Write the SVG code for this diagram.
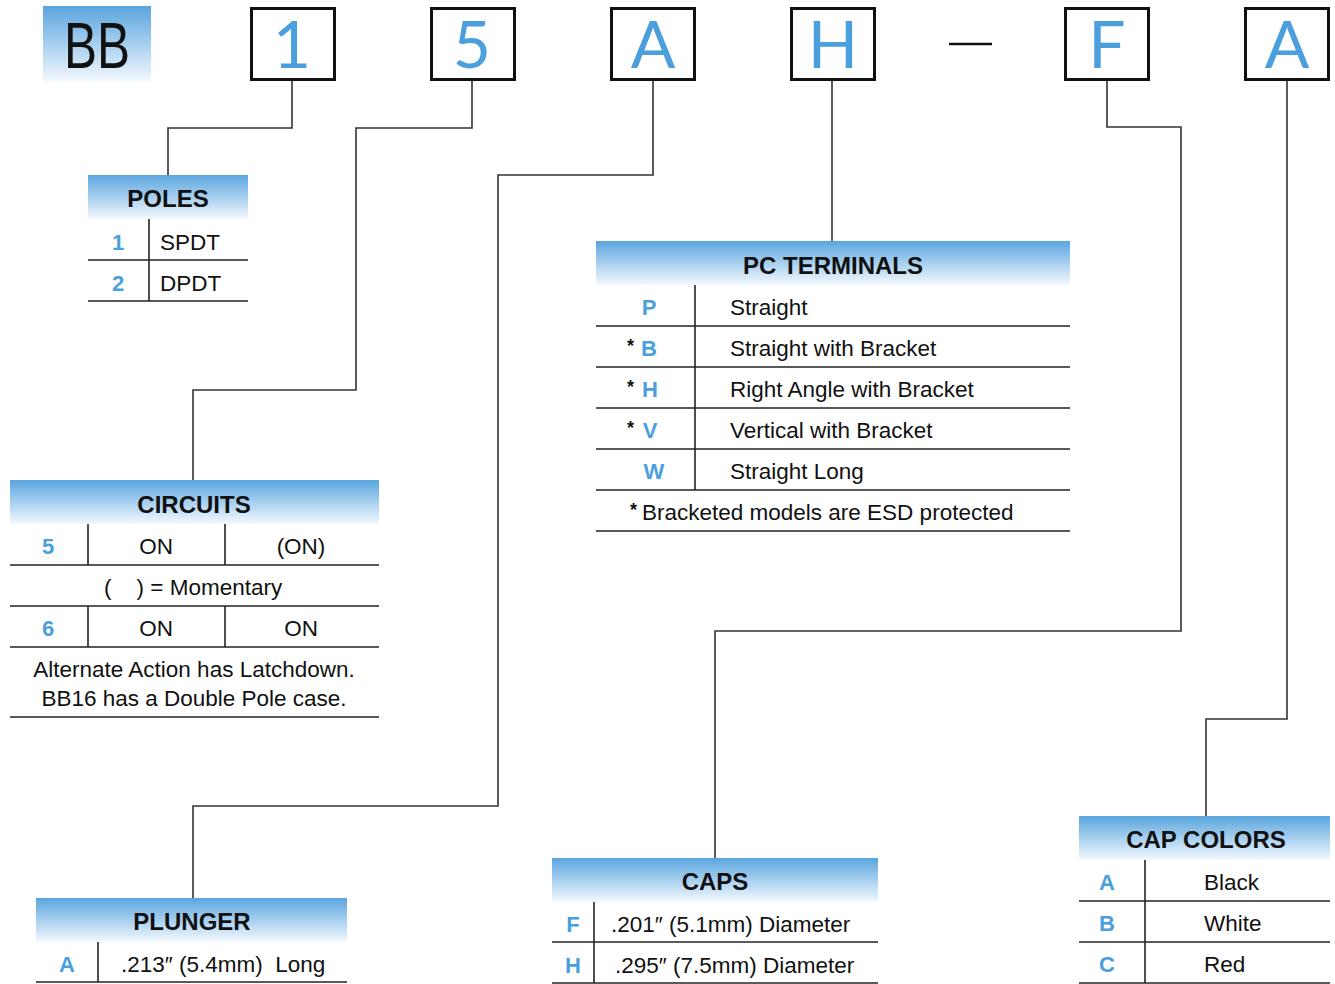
<svg xmlns="http://www.w3.org/2000/svg" width="1335" height="984" viewBox="0 0 1335 984">
<defs>
<linearGradient id="hdr" x1="0" y1="0" x2="0" y2="1">
<stop offset="0" stop-color="#5AA5DF"/>
<stop offset="1" stop-color="#F4F9FE"/>
</linearGradient>
</defs>
<style>
text{font-family:"Liberation Sans",Arial,sans-serif;fill:#111}
.t{font-size:22.5px}
.c{text-anchor:middle}
.h{font-size:24px;font-weight:bold;text-anchor:middle}
.k{font-size:22px;font-weight:bold;fill:#4B9FDD;text-anchor:middle}
.s{font-size:18px;font-weight:bold}
.big{font-family:Lato,"Liberation Sans",sans-serif;font-weight:400;font-size:66px;fill:#4B9FDD;text-anchor:middle}
.box{fill:#fff;stroke:#111;stroke-width:3}
.ln{stroke:#222;stroke-width:1.6;fill:none}
.con{stroke:#333;stroke-width:1.6;fill:none}
</style>
<rect width="1335" height="984" fill="#fff"/>

<g id="connectors">
<path class="con" d="M292,81 V128 H168 V175"/>
<path class="con" d="M472,81 V128 H356 V390 H193 V480"/>
<path class="con" d="M653,81 V175 H498 V806 H193 V898"/>
<path class="con" d="M832,81 V241"/>
<path class="con" d="M1107,81 V127 H1181 V631 H715 V858"/>
<path class="con" d="M1287,81 V719 H1206 V816"/>
</g>

<g id="code-bb">
<rect x="43" y="6" width="108" height="76" fill="url(#hdr)"/>
<text x="97" y="68" text-anchor="middle" textLength="66" lengthAdjust="spacingAndGlyphs" style="font-size:64px">BB</text>
</g>
<g id="code-1"><rect class="box" x="251.5" y="8.5" width="83" height="71"/><text class="big" x="292" y="68">1</text></g>
<g id="code-5"><rect class="box" x="431.5" y="8.5" width="83" height="71"/><text class="big" x="472" y="68">5</text></g>
<g id="code-a"><rect class="box" x="611.5" y="8.5" width="83" height="71"/><text class="big" x="653" y="68">A</text></g>
<g id="code-h"><rect class="box" x="791.5" y="8.5" width="83" height="71"/><text class="big" x="833" y="68">H</text></g>
<g id="dash"><line x1="949" y1="44" x2="992" y2="44" stroke="#111" stroke-width="2.5"/></g>
<g id="code-f"><rect class="box" x="1065.5" y="8.5" width="83" height="71"/><text class="big" x="1107" y="68">F</text></g>
<g id="code-a2"><rect class="box" x="1245.5" y="8.5" width="83" height="71"/><text class="big" x="1287" y="68">A</text></g>

<g id="poles">
<rect x="88" y="175" width="160" height="44" fill="url(#hdr)"/>
<text class="h" x="168" y="207">POLES</text>
<line class="ln" x1="149" y1="219" x2="149" y2="301"/>
<line class="ln" x1="88" y1="260" x2="248" y2="260"/>
<line class="ln" x1="88" y1="301" x2="248" y2="301"/>
<text class="k" x="118" y="250">1</text><text class="t" x="160" y="250">SPDT</text>
<text class="k" x="118" y="291">2</text><text class="t" x="160" y="291">DPDT</text>
</g>

<g id="circuits">
<rect x="10" y="480" width="369" height="44" fill="url(#hdr)"/>
<text class="h" x="194" y="513">CIRCUITS</text>
<line class="ln" x1="88" y1="524" x2="88" y2="565"/>
<line class="ln" x1="225" y1="524" x2="225" y2="565"/>
<line class="ln" x1="88" y1="606" x2="88" y2="647"/>
<line class="ln" x1="225" y1="606" x2="225" y2="647"/>
<line class="ln" x1="10" y1="565" x2="379" y2="565"/>
<line class="ln" x1="10" y1="606" x2="379" y2="606"/>
<line class="ln" x1="10" y1="647" x2="379" y2="647"/>
<line class="ln" x1="10" y1="717" x2="379" y2="717"/>
<text class="k" x="48" y="554">5</text>
<text class="t c" x="156" y="554">ON</text>
<text class="t c" x="301" y="554">(ON)</text>
<text class="t" x="104" y="595" xml:space="preserve">(    ) = Momentary</text>
<text class="k" x="48" y="636">6</text>
<text class="t c" x="156" y="636">ON</text>
<text class="t c" x="301" y="636">ON</text>
<text class="t c" x="194" y="677">Alternate Action has Latchdown.</text>
<text class="t c" x="194" y="706">BB16 has a Double Pole case.</text>
</g>

<g id="pc-terminals">
<rect x="596" y="241" width="474" height="44" fill="url(#hdr)"/>
<text class="h" x="833" y="274">PC TERMINALS</text>
<line class="ln" x1="695" y1="285" x2="695" y2="490"/>
<line class="ln" x1="596" y1="326" x2="1070" y2="326"/>
<line class="ln" x1="596" y1="367" x2="1070" y2="367"/>
<line class="ln" x1="596" y1="408" x2="1070" y2="408"/>
<line class="ln" x1="596" y1="449" x2="1070" y2="449"/>
<line class="ln" x1="596" y1="490" x2="1070" y2="490"/>
<line class="ln" x1="596" y1="531" x2="1070" y2="531"/>
<text class="k" x="649" y="315">P</text><text class="t" x="730" y="315">Straight</text>
<text class="s" x="627" y="352">*</text><text class="k" x="649" y="356">B</text><text class="t" x="730" y="356">Straight with Bracket</text>
<text class="s" x="627" y="393">*</text><text class="k" x="650" y="397">H</text><text class="t" x="730" y="397">Right Angle with Bracket</text>
<text class="s" x="627" y="434">*</text><text class="k" x="650" y="438">V</text><text class="t" x="730" y="438">Vertical with Bracket</text>
<text class="k" x="654" y="479">W</text><text class="t" x="730" y="479">Straight Long</text>
<text class="s" x="630" y="516">*</text><text class="t" x="642" y="520">Bracketed models are ESD protected</text>
</g>

<g id="plunger">
<rect x="36" y="898" width="311" height="44" fill="url(#hdr)"/>
<text class="h" x="192" y="930">PLUNGER</text>
<line class="ln" x1="98" y1="942" x2="98" y2="982"/>
<line class="ln" x1="36" y1="982" x2="347" y2="982"/>
<text class="k" x="67" y="972">A</text>
<text class="t" x="121" y="972" xml:space="preserve">.213″ (5.4mm)  Long</text>
</g>

<g id="caps">
<rect x="552" y="858" width="326" height="44" fill="url(#hdr)"/>
<text class="h" x="715" y="890">CAPS</text>
<line class="ln" x1="594" y1="902" x2="594" y2="983"/>
<line class="ln" x1="552" y1="942" x2="878" y2="942"/>
<line class="ln" x1="552" y1="983" x2="878" y2="983"/>
<text class="k" x="573" y="932">F</text><text class="t" x="611" y="932">.201″ (5.1mm) Diameter</text>
<text class="k" x="573" y="973">H</text><text class="t" x="615" y="973">.295″ (7.5mm) Diameter</text>
</g>

<g id="cap-colors">
<rect x="1079" y="816" width="251" height="44" fill="url(#hdr)"/>
<text class="h" x="1206" y="848">CAP COLORS</text>
<line class="ln" x1="1145" y1="860" x2="1145" y2="983"/>
<line class="ln" x1="1079" y1="901" x2="1330" y2="901"/>
<line class="ln" x1="1079" y1="942" x2="1330" y2="942"/>
<line class="ln" x1="1079" y1="983" x2="1330" y2="983"/>
<text class="k" x="1107" y="890">A</text><text class="t" x="1204" y="890">Black</text>
<text class="k" x="1107" y="931">B</text><text class="t" x="1204" y="931">White</text>
<text class="k" x="1107" y="972">C</text><text class="t" x="1204" y="972">Red</text>
</g>
</svg>
